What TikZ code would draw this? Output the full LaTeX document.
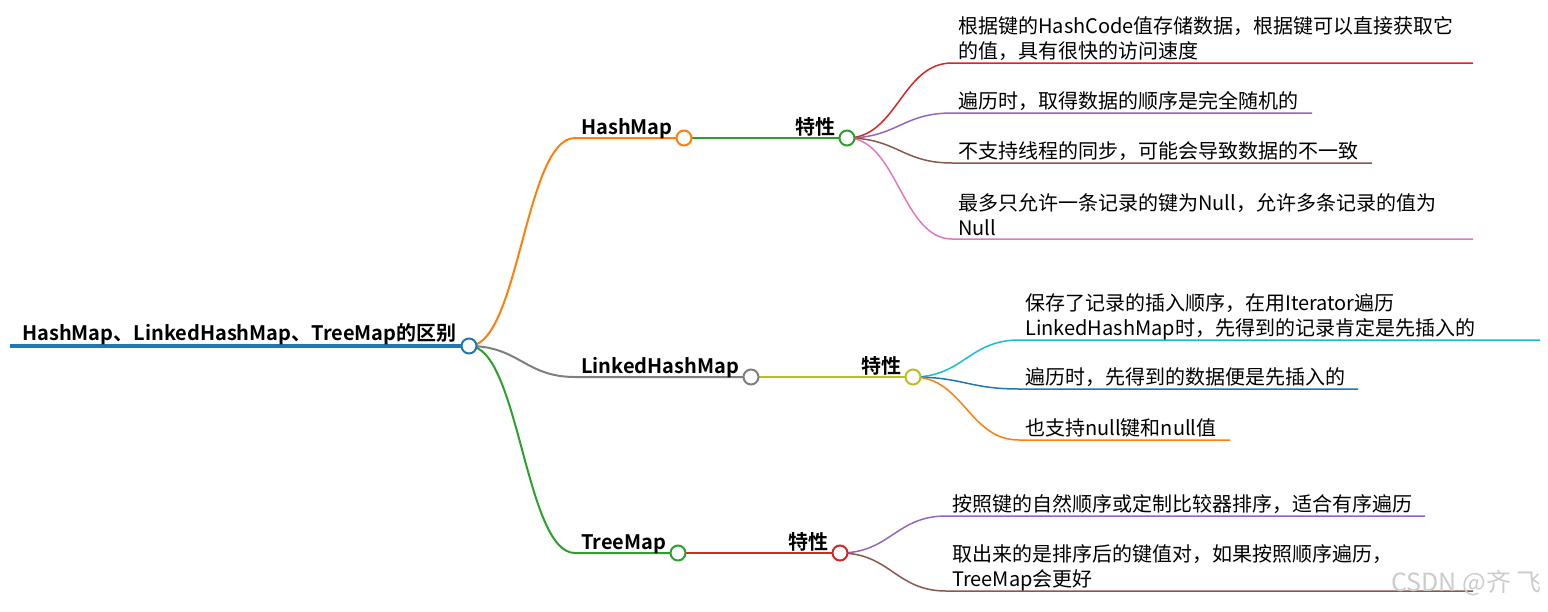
\documentclass[tikz,border=0pt]{standalone}
\usepackage{fontspec}
\setmainfont{Noto Sans CJK SC}[BoldFont={Noto Sans CJK SC Bold}]
\usepackage{xcolor}
\usetikzlibrary{backgrounds}

% d3 category10
\definecolor{cblue}{HTML}{1F77B4}
\definecolor{corange}{HTML}{FF7F0E}
\definecolor{cgreen}{HTML}{2CA02C}
\definecolor{cred}{HTML}{D62728}
\definecolor{cpurple}{HTML}{9467BD}
\definecolor{cbrown}{HTML}{8C564B}
\definecolor{cpink}{HTML}{E377C2}
\definecolor{cgray}{HTML}{7F7F7F}
\definecolor{colive}{HTML}{BCBD22}
\definecolor{ccyan}{HTML}{17BECF}

\begin{document}
\begin{tikzpicture}[
    x=1pt, y=-1pt,
    font=\fontsize{20}{25}\selectfont,
    dot/.style={circle, draw=#1, line width=2pt, fill=white, minimum size=15pt, inner sep=0pt},
    link/.style={draw=#1, line width=2pt},
    twig/.style={draw=#1, line width=1.5pt},
    lbl/.style={font=\fontsize{20}{25}\selectfont\bfseries, inner sep=0pt},
    leaf/.style={anchor=base west, align=left, inner sep=0pt}
]
\useasboundingbox (0,0) rectangle (1548,611);

% circles
\node[dot=cblue]   (root) at (469,346) {};
\node[dot=corange] (hm)   at (684,138) {};
\node[dot=cgreen]  (hmf)  at (847,138) {};
\node[dot=cgray]   (lhm)  at (751,377) {};
\node[dot=colive]  (lhmf) at (913,377) {};
\node[dot=cgreen]  (tm)   at (678,553) {};
\node[dot=cred]    (tmf)  at (840,553) {};

% labels
\node[lbl, anchor=base west] (title) at (22,340) {HashMap、LinkedHashMap、TreeMap的区别};
\node[lbl, anchor=base west] (hm-l)   at (581,134) {HashMap};
\node[lbl, anchor=base east] (hmf-l)  at (836,134) {特性};
\node[lbl, anchor=base west] (lhm-l)  at (581,373) {LinkedHashMap};
\node[lbl, anchor=base east] (lhmf-l) at (902,373) {特性};
\node[lbl, anchor=base west] (tm-l)   at (581,549) {TreeMap};
\node[lbl, anchor=base east] (tmf-l)  at (829,549) {特性};

% leaves (base = last line)
\node[leaf] (hm1) at (958,58.5) {根据键的HashCode值存储数据，根据键可以直接获取它\\的值，具有很快的访问速度};
\node[leaf] (hm2) at (958,108.5) {遍历时，取得数据的顺序是完全随机的};
\node[leaf] (hm3) at (958,158.5) {不支持线程的同步，可能会导致数据的不一致};
\node[leaf] (hm4) at (958,235) {最多只允许一条记录的键为Null，允许多条记录的值为\\Null};

\node[leaf] (lhm1) at (1025,335.5) {保存了记录的插入顺序，在用Iterator遍历\\LinkedHashMap时，先得到的记录肯定是先插入的};
\node[leaf] (lhm2) at (1025,384.5) {遍历时，先得到的数据便是先插入的};
\node[leaf] (lhm3) at (1025,435.5) {也支持null键和null值};

\node[leaf] (tm1) at (952,511.5) {按照键的自然顺序或定制比较器排序，适合有序遍历};
\node[leaf] (tm2) at (952,586.5) {取出来的是排序后的键值对，如果按照顺序遍历，\\TreeMap会更好};

% line ends
\coordinate (root-s) at (10,346);
\coordinate (hm-s)   at (575,138);
\coordinate (lhm-s)  at (575,377);
\coordinate (tm-s)   at (575,553);
\coordinate (hm1-s) at (952,63);   \coordinate (hm1-e) at (1473,63);
\coordinate (hm2-s) at (952,113);  \coordinate (hm2-e) at (1312,113);
\coordinate (hm3-s) at (952,163);  \coordinate (hm3-e) at (1372,163);
\coordinate (hm4-s) at (952,239);  \coordinate (hm4-e) at (1473,239);
\coordinate (lhm1-s) at (1019,340); \coordinate (lhm1-e) at (1540,340);
\coordinate (lhm2-s) at (1019,389); \coordinate (lhm2-e) at (1358,389);
\coordinate (lhm3-s) at (1019,440); \coordinate (lhm3-e) at (1230,440);
\coordinate (tm1-s) at (946,516);  \coordinate (tm1-e) at (1425,516);
\coordinate (tm2-s) at (946,591);  \coordinate (tm2-e) at (1473,591);

\begin{scope}[on background layer]
% root
\draw[cblue, line width=4.5pt] (root-s) -- (root.center);

% root -> maps
\draw[link=corange] (root.center) .. controls +(50,0) and +(-50,0) .. (hm-s) -- (hm.center);
\draw[link=cgray]   (root.center) .. controls +(50,0) and +(-50,0) .. (lhm-s) -- (lhm.center);
\draw[link=cgreen]  (root.center) .. controls +(50,0) and +(-50,0) .. (tm-s) -- (tm.center);

% maps -> features
\draw[link=cgreen] (hm.center) -- (hmf.center);
\draw[link=colive] (lhm.center) -- (lhmf.center);
\draw[link=cred]   (tm.center) -- (tmf.center);

% HashMap leaves
\draw[twig=cred]    (hmf.center) .. controls +(50,0) and +(-50,0) .. (hm1-s) -- (hm1-e);
\draw[twig=cpurple] (hmf.center) .. controls +(50,0) and +(-50,0) .. (hm2-s) -- (hm2-e);
\draw[twig=cbrown]  (hmf.center) .. controls +(50,0) and +(-50,0) .. (hm3-s) -- (hm3-e);
\draw[twig=cpink]   (hmf.center) .. controls +(50,0) and +(-50,0) .. (hm4-s) -- (hm4-e);

% LinkedHashMap leaves
\draw[twig=ccyan]   (lhmf.center) .. controls +(50,0) and +(-50,0) .. (lhm1-s) -- (lhm1-e);
\draw[twig=cblue]   (lhmf.center) .. controls +(50,0) and +(-50,0) .. (lhm2-s) -- (lhm2-e);
\draw[twig=corange] (lhmf.center) .. controls +(50,0) and +(-50,0) .. (lhm3-s) -- (lhm3-e);

% TreeMap leaves
\draw[twig=cpurple] (tmf.center) .. controls +(50,0) and +(-50,0) .. (tm1-s) -- (tm1-e);
\draw[twig=cbrown]  (tmf.center) .. controls +(50,0) and +(-50,0) .. (tm2-s) -- (tm2-e);
\end{scope}

% watermark
\node[text=gray!40, font=\fontsize{25}{25}\selectfont, anchor=base east, inner sep=0pt] (mark) at (1542,591) {CSDN @齐 飞};

\end{tikzpicture}
\end{document}
